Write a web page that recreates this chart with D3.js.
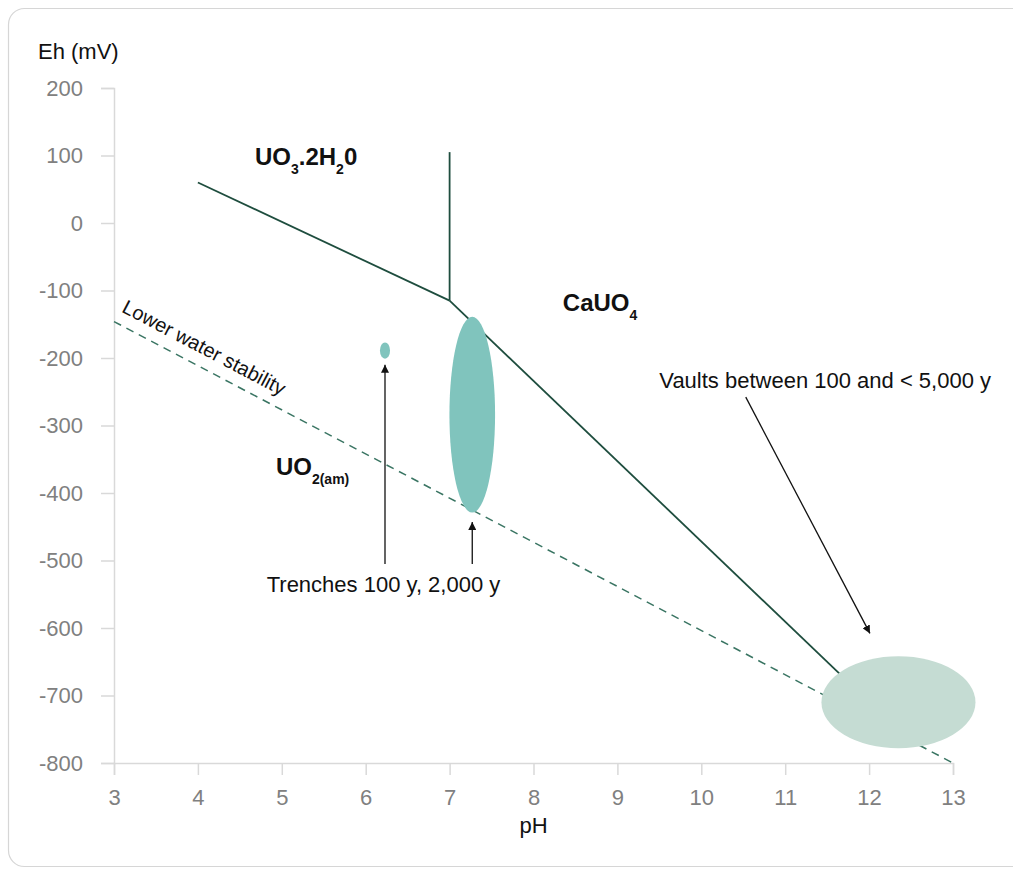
<!DOCTYPE html>
<html>
<head>
<meta charset="utf-8">
<script src="https://cdn.jsdelivr.net/npm/d3@7"></script>
<style>
  body { margin: 0; background: #fff; }
  text { font-family: "Liberation Sans", Arial, sans-serif; }
</style>
</head>
<body>
<div id="my_dataviz"></div>
<script>
// Axis ticks
const phTicks = [3, 4, 5, 6, 7, 8, 9, 10, 11, 12, 13];
const ehTicks = [200, 100, 0, -100, -200, -300, -400, -500, -600, -700, -800];

// Stability field boundaries [pH, Eh]
const boundaryUpper = [[4, 60], [7, -115]];
const boundaryVertical = [[7, -115], [7, 105]];
const boundaryLower = [[7, -115], [11.65, -668]];
const waterLine = [[3, -146], [13, -800]];

// Waste zones: centre pH, centre Eh, half width (pH), half height (mV)
const zones = [
  { ph: 6.23, eh: -189, rph: 0.06, reh: 12, color: "#80c4bd" },
  { ph: 7.27, eh: -284, rph: 0.272, reh: 145, color: "#80c4bd" },
  { ph: 12.35, eh: -710, rph: 0.918, reh: 68, color: "#c5dcd3" }
];

// Arrows [from, to]
const arrows = [
  [[6.23, -505], [6.23, -210]],
  [[7.27, -505], [7.27, -443]],
  [[10.53, -258], [12.01, -608]]
];

// Labels: parts are [text, isSubscript]
const fieldLabels = [
  { ph: 4.68, eh: 86, parts: [["UO", 0], ["3", 1], [".2H", 0], ["2", 1], ["0", 0]] },
  { ph: 8.35, eh: -131, parts: [["CaUO", 0], ["4", 1]] },
  { ph: 4.93, eh: -374, parts: [["UO", 0], ["2(am)", 1]] }
];
const notes = [
  { ph: 9.5, eh: -245, text: "Vaults between 100 and < 5,000 y" },
  { ph: 4.82, eh: -546, text: "Trenches 100 y, 2,000 y" }
];

const width = 1013, height = 869;

const xScale = d3.scaleLinear().domain([3, 13]).range([114, 953]);
const yScale = d3.scaleLinear().domain([-800, 200]).range([763, 88]);

const svg = d3.select("#my_dataviz").append("svg")
  .attr("width", width)
  .attr("height", height);

// card border
svg.append("rect")
  .attr("x", 8.5).attr("y", 8.5)
  .attr("width", 1040).attr("height", 858)
  .attr("rx", 16)
  .attr("fill", "none")
  .attr("stroke", "#d6d6d6")
  .attr("stroke-width", 1.2);

svg.append("defs").append("marker")
  .attr("id", "head")
  .attr("viewBox", "0 0 10 10")
  .attr("refX", 10).attr("refY", 5)
  .attr("markerWidth", 8).attr("markerHeight", 8)
  .attr("markerUnits", "userSpaceOnUse")
  .attr("orient", "auto")
  .append("path")
  .attr("d", "M0,0 L10,5 L0,10 Z")
  .attr("fill", "#111");

// y axis
const yAxis = svg.append("g")
  .attr("transform", "translate(114,0)")
  .call(d3.axisLeft(yScale).tickValues(ehTicks).tickSize(13).tickPadding(18).tickFormat(d => String(d)));
yAxis.selectAll("text").attr("font-size", 22).attr("fill", "#808080").attr("font-family", null);

// x axis
const xAxis = svg.append("g")
  .attr("transform", "translate(0,763)")
  .call(d3.axisBottom(xScale).tickValues(phTicks).tickSize(12).tickPadding(14).tickFormat(d => String(d)));
xAxis.selectAll("text").attr("font-size", 22).attr("fill", "#808080").attr("font-family", null);

svg.selectAll(".domain, .tick line").attr("stroke", "#d9d9d9").attr("stroke-width", 1.5);

// axis titles
svg.append("text")
  .attr("x", 38).attr("y", 59)
  .attr("font-size", 22).attr("fill", "#111")
  .text("Eh (mV)");
svg.append("text")
  .attr("x", xScale(8)).attr("y", 833)
  .attr("text-anchor", "middle")
  .attr("font-size", 22).attr("fill", "#111")
  .text("pH");

const line = d3.line().x(d => xScale(d[0])).y(d => yScale(d[1]));

// lower water stability line
svg.append("path")
  .attr("d", line(waterLine))
  .attr("fill", "none")
  .attr("stroke", "#3a7563")
  .attr("stroke-width", 1.5)
  .attr("stroke-dasharray", "8,6");

const angle = Math.atan2(yScale(waterLine[1][1]) - yScale(waterLine[0][1]),
  xScale(waterLine[1][0]) - xScale(waterLine[0][0])) * 180 / Math.PI;
svg.append("text")
  .attr("transform", `translate(${xScale(3.08)},${yScale(-131)}) rotate(${angle})`)
  .attr("font-size", 20).attr("fill", "#111")
  .text("Lower water stability");

// boundaries
svg.selectAll(".boundary")
  .data([boundaryUpper, boundaryVertical, boundaryLower])
  .enter()
  .append("path")
  .attr("class", "boundary")
  .attr("d", line)
  .attr("fill", "none")
  .attr("stroke", "#1e4d3e")
  .attr("stroke-width", 1.8);

// zones
svg.selectAll(".zone")
  .data(zones)
  .enter()
  .append("ellipse")
  .attr("class", "zone")
  .attr("cx", d => xScale(d.ph))
  .attr("cy", d => yScale(d.eh))
  .attr("rx", d => xScale(d.ph + d.rph) - xScale(d.ph))
  .attr("ry", d => yScale(d.eh - d.reh) - yScale(d.eh))
  .attr("fill", d => d.color);

// arrows
svg.selectAll(".arrow")
  .data(arrows)
  .enter()
  .append("path")
  .attr("class", "arrow")
  .attr("d", line)
  .attr("stroke", "#111")
  .attr("stroke-width", 1.3)
  .attr("marker-end", "url(#head)");

// field labels with subscripts
fieldLabels.forEach(l => {
  const t = svg.append("text")
    .attr("x", xScale(l.ph)).attr("y", yScale(l.eh))
    .attr("font-size", 24).attr("font-weight", "bold").attr("fill", "#111");
  let shifted = false;
  l.parts.forEach(p => {
    const ts = t.append("tspan").text(p[0]);
    if (p[1]) { ts.attr("font-size", 14).attr("dy", 9); shifted = true; }
    else if (shifted) { ts.attr("dy", -9); shifted = false; }
  });
});

// notes
svg.selectAll(".note")
  .data(notes)
  .enter()
  .append("text")
  .attr("class", "note")
  .attr("x", d => xScale(d.ph))
  .attr("y", d => yScale(d.eh))
  .attr("font-size", 22).attr("fill", "#111")
  .text(d => d.text);
</script>
</body>
</html>
